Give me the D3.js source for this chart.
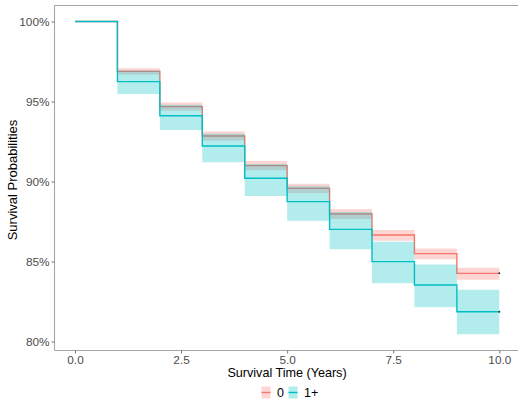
<!DOCTYPE html>
<html>
<head>
<meta charset="utf-8">
<script src="https://cdn.jsdelivr.net/npm/d3@7"></script>
<style>
  html, body { margin: 0; padding: 0; background: #fff; }
  svg { display: block; font-family: "Liberation Sans", Arial, sans-serif; }
</style>
</head>
<body>
<svg id="chart" width="518" height="399"></svg>
<script>
// Kaplan–Meier estimates (%) at the start of each yearly interval, with 95% CI
const times = [0, 1, 2, 3, 4, 5, 6, 7, 8, 9];
const endTime = 10;

const survGroup0  = [100, 96.88, 94.68, 92.84, 90.99, 89.57, 87.97, 86.66, 85.49, 84.26];
const upperGroup0 = [100, 97.08, 94.93, 93.12, 91.28, 89.86, 88.28, 86.97, 85.82, 84.61];
const lowerGroup0 = [100, 96.68, 94.43, 92.56, 90.70, 89.28, 87.66, 86.30, 85.14, 83.86];

const survGroup1  = [100, 96.24, 94.11, 92.22, 90.20, 88.74, 87.01, 84.99, 83.53, 81.86];
const upperGroup1 = [100, 96.94, 94.80, 92.98, 91.10, 89.70, 88.10, 86.24, 84.82, 83.24];
const lowerGroup1 = [100, 95.47, 93.22, 91.20, 89.09, 87.55, 85.76, 83.64, 82.14, 80.45];

const groupNames = ["0", "1+"];
const groupColors = ["#F8766D", "#00BFC4"];

const xTicks = [0, 2.5, 5, 7.5, 10];
const yTicks = [80, 85, 90, 95, 100];

const svg = d3.select("#chart");

const x = d3.scaleLinear().domain([0, 10]).range([75, 499.3]);
const y = d3.scaleLinear().domain([80, 100]).range([341.5, 21.5]);

const panel = { left: 54.5, right: 518, top: 5.5, bottom: 350.5 };

function series(surv, lo, hi) {
  const pts = times.map((t, i) => ({ t, s: surv[i], lo: lo[i], hi: hi[i] }));
  const last = pts[pts.length - 1];
  pts.push({ t: endTime, s: last.s, lo: last.lo, hi: last.hi });
  return pts;
}

const groups = [
  series(survGroup0, lowerGroup0, upperGroup0),
  series(survGroup1, lowerGroup1, upperGroup1)
];

const line = d3.line().x(d => x(d.t)).y(d => y(d.s)).curve(d3.curveStepAfter);
const area = d3.area().x(d => x(d.t)).y0(d => y(d.lo)).y1(d => y(d.hi)).curve(d3.curveStepAfter);

function drawLine(g, color) {
  svg.append("path")
    .attr("d", line(g))
    .attr("fill", "none")
    .attr("stroke", color)
    .attr("stroke-width", 1.4);
}
function drawRibbon(g, color) {
  svg.append("path")
    .attr("d", area(g))
    .attr("fill", color)
    .attr("fill-opacity", 0.3)
    .attr("stroke", "none");
}

// group "0": curve under both ribbons; group "1+": curve on top
drawLine(groups[0], groupColors[0]);
drawRibbon(groups[0], groupColors[0]);
drawRibbon(groups[1], groupColors[1]);
drawLine(groups[1], groupColors[1]);

// censor marks at end of follow-up
groups.forEach((g) => {
  const last = g[g.length - 1];
  svg.append("circle")
    .attr("cx", x(last.t))
    .attr("cy", y(last.s))
    .attr("r", 1)
    .attr("fill", "#333");
});

// axes
const axisColor = "#A6A6A6";
svg.append("line")
  .attr("x1", panel.left).attr("x2", panel.left)
  .attr("y1", panel.top).attr("y2", panel.bottom)
  .attr("stroke", axisColor).attr("stroke-width", 1.1);
svg.append("line")
  .attr("x1", panel.left).attr("x2", panel.right)
  .attr("y1", panel.bottom).attr("y2", panel.bottom)
  .attr("stroke", axisColor).attr("stroke-width", 1.1);
svg.append("line")
  .attr("x1", panel.left).attr("x2", panel.right)
  .attr("y1", panel.top).attr("y2", panel.top)
  .attr("stroke", axisColor).attr("stroke-width", 1.1);

const yAxis = d3.axisLeft(y)
  .tickValues(yTicks)
  .tickFormat(d => d + "%")
  .tickSize(3)
  .tickPadding(2);
const gy = svg.append("g").attr("transform", `translate(${panel.left},0)`).call(yAxis);
gy.select(".domain").remove();
gy.selectAll(".tick line").attr("stroke", "#555").attr("stroke-width", 0.8);
gy.selectAll(".tick text").attr("fill", "#4D4D4D").style("font-size", "11.8px");

const xAxis = d3.axisBottom(x)
  .tickValues(xTicks)
  .tickFormat(d3.format(".1f"))
  .tickSize(3)
  .tickPadding(2);
const gx = svg.append("g").attr("transform", `translate(0,${panel.bottom})`).call(xAxis);
gx.select(".domain").remove();
gx.selectAll(".tick line").attr("stroke", "#555").attr("stroke-width", 0.8);
gx.selectAll(".tick text").attr("fill", "#4D4D4D").style("font-size", "11.8px");

// axis titles
svg.append("text")
  .attr("x", 287).attr("y", 377)
  .attr("text-anchor", "middle")
  .style("font-size", "12.6px")
  .attr("fill", "#000")
  .text("Survival Time (Years)");

svg.append("text")
  .attr("transform", `translate(17,${(panel.top + panel.bottom) / 2 + 2}) rotate(-90)`)
  .attr("text-anchor", "middle")
  .style("font-size", "13px")
  .attr("fill", "#000")
  .text("Survival Probabilities");

// legend
const legendItems = [
  { name: groupNames[0], color: groupColors[0], kx: 261.5, tx: 277 },
  { name: groupNames[1], color: groupColors[1], kx: 288.5, tx: 304 }
];
legendItems.forEach(item => {
  const g = svg.append("g");
  g.append("rect")
    .attr("x", item.kx).attr("y", 386.5)
    .attr("width", 9).attr("height", 12)
    .attr("fill", item.color).attr("fill-opacity", 0.3);
  g.append("line")
    .attr("x1", item.kx).attr("x2", item.kx + 9)
    .attr("y1", 392.5).attr("y2", 392.5)
    .attr("stroke", item.color).attr("stroke-width", 1.4);
  g.append("text")
    .attr("x", item.tx).attr("y", 397)
    .style("font-size", "12.5px")
    .attr("fill", "#000")
    .text(item.name);
});
</script>
</body>
</html>
